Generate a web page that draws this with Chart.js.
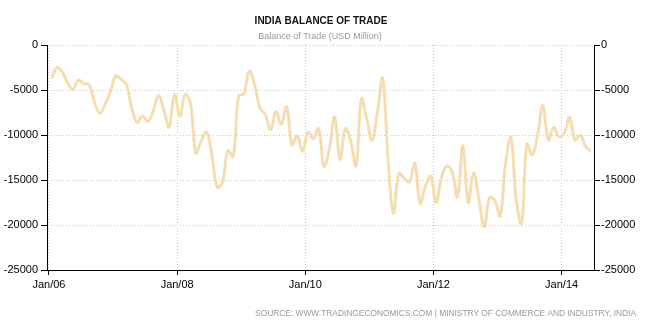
<!DOCTYPE html>
<html>
<head>
<meta charset="utf-8">
<title>India Balance of Trade</title>
<script src="https://cdn.jsdelivr.net/npm/chart.js@4/dist/chart.umd.min.js"></script>
<style>
  html, body { margin: 0; padding: 0; background: #fff; }
  #wrap { width: 655px; height: 333px; }
</style>
</head>
<body>
<div id="wrap"><canvas id="tradeChart" width="655" height="333"></canvas></div>
<script>
// balance of trade, USD million, one value per month
const bal2006 = [-3700, -2500, -3000, -4200, -4900, -3900, -4300, -4400, -6300, -7600, -6600, -5200];
const bal2007 = [-3450, -3800, -4400, -7000, -8600, -7900, -8500, -7400, -5600, -7200, -9100, -5500];
const bal2008 = [-7900, -5500, -6500, -12000, -10700, -9700, -12200, -15800, -15200, -11700, -12400, -5700];
const bal2009 = [-5400, -2900, -4400, -7000, -7700, -9400, -7400, -8800, -6850, -11100, -10100, -11800];
const bal2010 = [-9700, -10400, -9300, -13500, -11500, -8000, -12700, -9300, -10700, -13400, -6000, -8150];
const bal2011 = [-10600, -7500, -3700, -12800, -18700, -14250, -14800, -15200, -13150, -17600, -15700, -14600];
const bal2012 = [-17500, -14700, -13450, -14100, -16900, -11200, -17500, -14200, -17100, -20200, -16950, -17300];
const bal2013 = [-19000, -13150, -10300, -17200, -19800, -11000, -12200, -10000, -6700, -10550, -9150, -10200];
const bal2014 = [-9800, -8050, -10550, -10000, -11300, -11750];

// x ticks: months counted from Jan 2006
const tickMonths = [0, 24, 48, 72, 96];
const tickLabels = ['Jan/06', 'Jan/08', 'Jan/10', 'Jan/12', 'Jan/14'];

const chartTitle = 'INDIA BALANCE OF TRADE';
const chartSubtitle = 'Balance of Trade (USD Million)';
const chartSource = 'SOURCE: WWW.TRADINGECONOMICS.COM | MINISTRY OF COMMERCE AND INDUSTRY, INDIA';

const balance = [].concat(bal2006, bal2007, bal2008, bal2009, bal2010, bal2011, bal2012, bal2013, bal2014);
// each value sits in the middle of its month
const points = balance.map((v, i) => ({ x: i + 0.5, y: v }));

const FONT = '"Liberation Sans", Arial, sans-serif';

const textPlugin = {
	id: 'chartText',
	afterDraw(chart) {
		const ctx = chart.ctx;
		ctx.save();
		ctx.textBaseline = 'middle';
		ctx.textAlign = 'center';
		ctx.fillStyle = '#111';
		ctx.font = 'bold 10px ' + FONT;
		ctx.fillText(chartTitle, 321, 21);
		ctx.fillStyle = '#999';
		ctx.font = '9px ' + FONT;
		ctx.fillText(chartSubtitle, 320, 37);
		ctx.textAlign = 'right';
		ctx.font = '8.4px ' + FONT;
		ctx.fillText(chartSource, 636, 314);
		ctx.restore();
	}
};

const gridColor = '#c8c8c8';

var ctx = document.getElementById('tradeChart').getContext('2d');
var chart = new Chart(ctx, {
	type: 'line',
	data: {
		datasets: [{
			data: points,
			borderColor: '#f5ddb0',
			borderWidth: 3,
			pointRadius: 0,
			tension: 0.4,
			fill: false
		}]
	},
	plugins: [textPlugin],
	options: {
		responsive: false,
		animation: false,
		layout: { padding: { top: 45, left: 0, right: 0, bottom: 0 } },
		plugins: {
			legend: { display: false },
			tooltip: { enabled: false }
		},
		scales: {
			x: {
				type: 'linear',
				min: -0.37,
				max: 102.06,
				afterBuildTicks: (scale) => {
					scale.ticks = tickMonths.map(m => ({ value: m }));
				},
				afterFit: (scale) => { scale.height = 63; },
				ticks: {
					autoSkip: false,
					maxRotation: 0,
					padding: 3,
					color: '#000',
					font: { family: FONT, size: 11 },
					callback: (value) => tickLabels[tickMonths.indexOf(value)]
				},
				grid: {
					color: gridColor,
					tickColor: '#000',
					tickLength: 5,
					tickBorderDash: []
				},
				border: { color: '#000', width: 1, dash: [1, 2] }
			},
			y: {
				position: 'left',
				min: -25000,
				max: 0,
				afterFit: (scale) => { scale.width = 47; },
				ticks: {
					stepSize: 5000,
					padding: 3,
					color: '#000',
					font: { family: FONT, size: 11 },
					callback: (value) => String(value)
				},
				grid: {
					color: gridColor,
					tickColor: '#000',
					tickLength: 6,
					tickBorderDash: []
				},
				border: { color: '#000', width: 1, dash: [1, 2] }
			},
			y2: {
				position: 'right',
				min: -25000,
				max: 0,
				afterFit: (scale) => { scale.width = 61; },
				ticks: {
					stepSize: 5000,
					padding: 1,
					color: '#000',
					font: { family: FONT, size: 11 },
					callback: (value) => String(value)
				},
				grid: {
					drawOnChartArea: false,
					color: '#000',
					tickColor: '#000',
					tickLength: 6
				},
				border: { color: '#000', width: 1 }
			}
		}
	}
});
</script>
</body>
</html>
